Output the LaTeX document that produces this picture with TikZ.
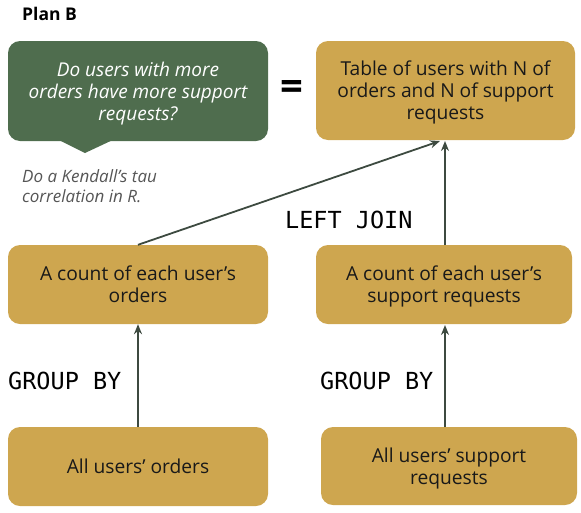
\documentclass[tikz,border=0pt]{standalone}
\usepackage{fontspec}
\setmainfont{Open Sans}
\setmonofont{DejaVu Sans Mono}
\usetikzlibrary{arrows.meta,positioning}
\definecolor{gold}{HTML}{CEA64F}
\definecolor{sage}{HTML}{4F6D4E}
\definecolor{arrowc}{HTML}{3D4A40}
\definecolor{noteg}{HTML}{555555}
\tikzset{
  goldbox/.style={fill=gold, rounded corners=12pt, align=center, inner sep=0pt,
    font=\fontsize{19.2}{22}\selectfont, text=black!90, text depth=0pt},
  sagebox/.style={fill=sage, rounded corners=12pt, align=center, inner sep=0pt,
    font=\fontsize{19}{22}\selectfont\itshape, text=white, text depth=0pt},
  flow/.style={draw=arrowc, line width=1.8pt, -{Stealth[length=10pt,width=8pt]}},
  sqlabel/.style={font=\fontsize{23.5}{26}\selectfont\ttfamily, anchor=west, inner sep=0pt},
}
\begin{document}
\begin{tikzpicture}[x=1pt,y=-1pt]
\useasboundingbox (0,0) rectangle (581,512);
\node[font=\fontsize{17.5}{20}\selectfont\bfseries, anchor=base west, inner sep=0pt] (title) at (22,20.5) {Plan B};
% question box
\fill[sage] (55,138) -- (117,138) -- (85,153) -- cycle;
\node[sagebox, minimum width=260pt, minimum height=100pt] (q) at (138,91) {Do users with more\\orders have more support\\requests?};
\node[font=\fontsize{40}{40}\selectfont\bfseries, inner sep=0pt] (eq) at (291.5,90.5) {=};
\node[goldbox, minimum width=259pt, minimum height=99pt] (tab) at (445.5,90.5) {Table of users with N of\\orders and N of support\\requests};
\node[font=\fontsize{17}{19.5}\selectfont\itshape, text=noteg, align=left, anchor=north west, inner sep=0pt] (note) at (22,169.5) {Do a Kendall’s tau\\correlation in R.};
\node[goldbox, minimum width=260pt, minimum height=79pt] (cl) at (138,284.5) {A count of each user’s\\orders};
\node[goldbox, minimum width=256pt, minimum height=79pt] (cr) at (444,284.5) {A count of each user’s\\support requests};
\node[goldbox, minimum width=260pt, minimum height=79pt] (al) at (138,466.5) {All users’ orders};
\node[goldbox, minimum width=256pt, minimum height=78pt] (ar) at (449,466) {All users’ support\\requests};
\node[sqlabel] (lj) at (285,220) {LEFT JOIN};
\node[sqlabel] (gl) at (8,381) {GROUP BY};
\node[sqlabel] (gr) at (320,381) {GROUP BY};
\coordinate (tabin) at (440,141);
\coordinate (tabin2) at (445,141);
\draw[flow] (al.north -| cl.north) -- (cl.south);
\draw[flow] (445,427) -- (445,325);
\draw[flow] (cl.north) -- (tabin);
\draw[flow] (445,245) -- (tabin2);
\end{tikzpicture}
\end{document}
